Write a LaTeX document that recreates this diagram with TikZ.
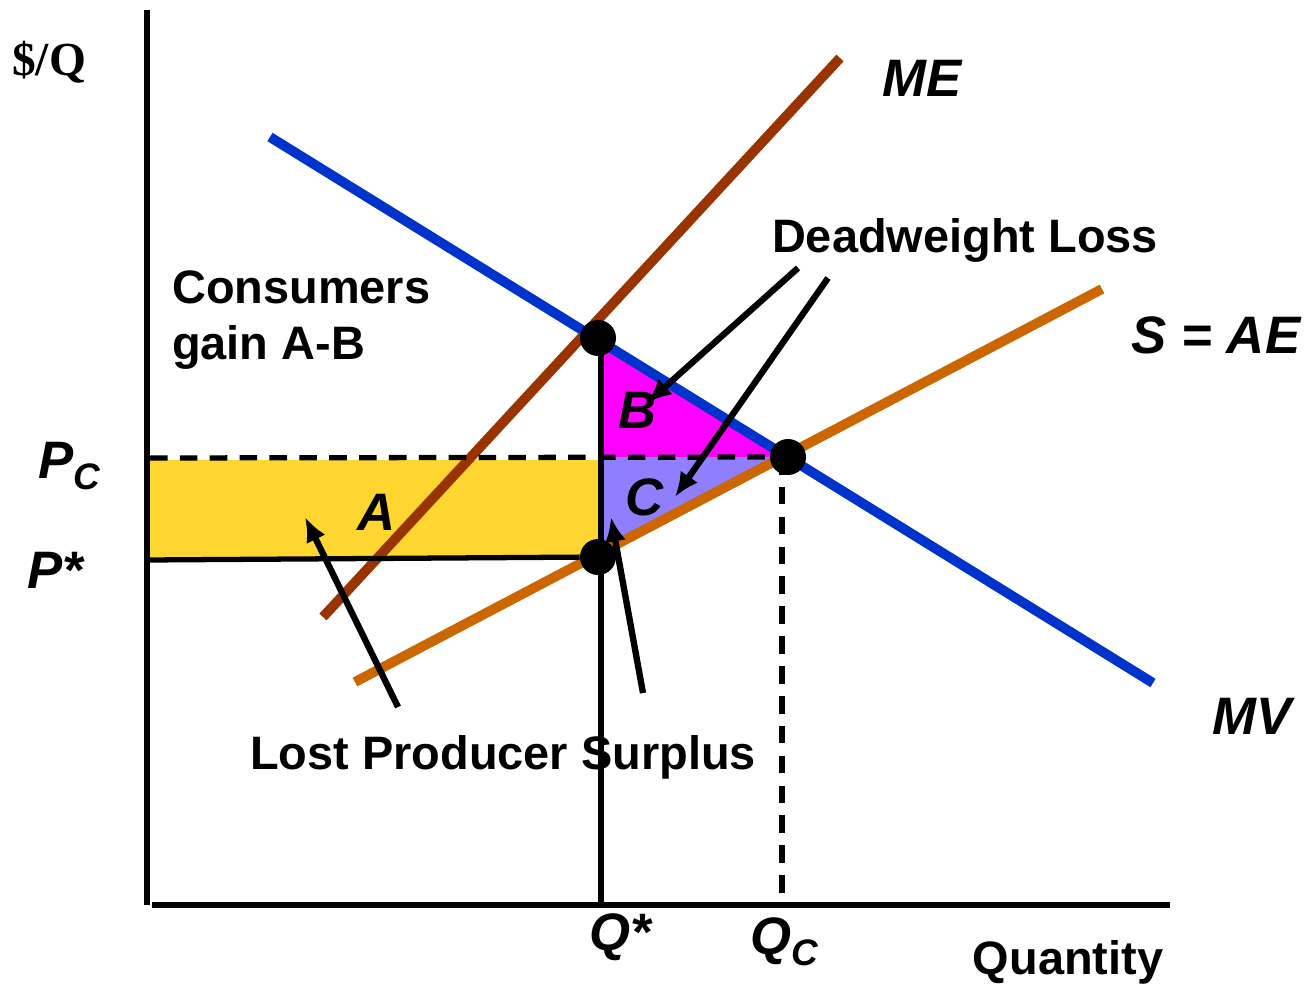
\documentclass[tikz,border=0pt]{standalone}
\usepackage{fontspec}
\setmainfont{Liberation Sans}
\newfontfamily\timesbf{Liberation Serif}
\usetikzlibrary{arrows.meta,calc}

\definecolor{mvblue}{RGB}{0,51,204}
\definecolor{mebrown}{RGB}{153,51,0}
\definecolor{aeorange}{RGB}{204,102,0}
\definecolor{areaA}{RGB}{255,214,48}
\definecolor{areaB}{RGB}{255,0,255}
\definecolor{areaC}{RGB}{143,127,255}

\tikzset{
  curve/.style={line width=5.6pt},
  axis/.style={line width=3pt},
  guide/.style={line width=3pt},
  dashguide/.style={line width=3pt, dash pattern=on 10pt off 7pt},
  pointer/.style={line width=3.6pt, ->},
  dot/.style={circle, fill=black, inner sep=0pt, minimum size=0.72cm},
  lbl/.style={font=\fontsize{26.7}{32}\selectfont\bfseries},
  ilbl/.style={font=\fontsize{30}{34}\selectfont\bfseries\itshape}
}

\begin{document}
\begin{tikzpicture}[>={Latex[length=14pt,width=12pt]}, x=0.02cm, y=-0.02cm]
			\useasboundingbox (0,0) rectangle (1306,987);
			% shaded areas
			\fill[areaA] (150,460) rectangle (600,558);
			\fill[areaB] (598,338) -- (788,457) -- (598,457) -- cycle;
			\fill[areaC] (598,457) -- (788,457) -- (598,556) -- cycle;
			% axes
			\coordinate (ytop) at (147,10);
			\coordinate (orig) at (147,905);
			\coordinate (xend) at (1170,905);
			\draw[axis] (ytop) -- (orig);
			\draw[axis] (152,905) -- (xend);
			% curves
			\coordinate (mv1) at (270,137);
			\coordinate (mv2) at (1153,683);
			\coordinate (me1) at (323,617);
			\coordinate (me2) at (840,58);
			\coordinate (ae1) at (355,682);
			\coordinate (ae2) at (1102,289);
			\draw[curve, mebrown] (me1) -- (me2);
			\draw[curve, aeorange] (ae1) -- (ae2);
			\draw[curve, mvblue] (mv1) -- (mv2);
			% points
			\node[dot] (top) at (598,338) {};
			\node[dot] (comp) at (788,457) {};
			\node[dot] (mono) at (598,557) {};
			% guide lines
			\draw[dashguide] (150,458) -- (comp);
			\draw[guide] (147,560) -- (mono);
			\draw[guide] (601,338) -- (601,905);
			\draw[dashguide] (782,457) -- (782,905);
			% axis labels
			\node[font=\fontsize{27}{32}\selectfont\timesbf\bfseries] (yl) at (49,62) {\$/Q};
			\node[ilbl] (pc) at (70,466) {P\textsubscript{C}};
			\node[ilbl] (pstar) at (55,570) {P*};
			\node[ilbl] (qstar) at (620,937) {Q*};
			\node[ilbl] (qc) at (785,942) {Q\textsubscript{C}};
			\node[lbl] (qty) at (1068,962) {Quantity};
			% curve labels
			\node[ilbl] (melbl) at (922,78) {ME};
			\node[ilbl] (aelbl) at (1216,335) {S = AE};
			\node[ilbl] (mvlbl) at (1252,716) {MV};
			% area labels
			\node[ilbl] (alab) at (377,512) {A};
			\node[ilbl] (blab) at (638,410) {B};
			\node[ilbl] (clab) at (645,497) {C};
			\node[lbl, anchor=west, align=left] (cons) at (166,320) {Consumers\\gain A-B};
			\node[lbl] (dwl) at (965,240) {Deadweight Loss};
			\node[lbl] (lps) at (503,757) {Lost Producer Surplus};
			% pointers
			\coordinate (dwl1) at (798,268);
			\coordinate (dwl2) at (828,278);
			\coordinate (lps1) at (398,707);
			\coordinate (lps2) at (643,693);
			\draw[pointer] (dwl1) -- (647,403);
			\draw[pointer] (dwl2) -- (675,497);
			\draw[pointer] (lps1) -- (305,517);
			\draw[pointer] (lps2) -- (611,517);
		\end{tikzpicture}
\end{document}
